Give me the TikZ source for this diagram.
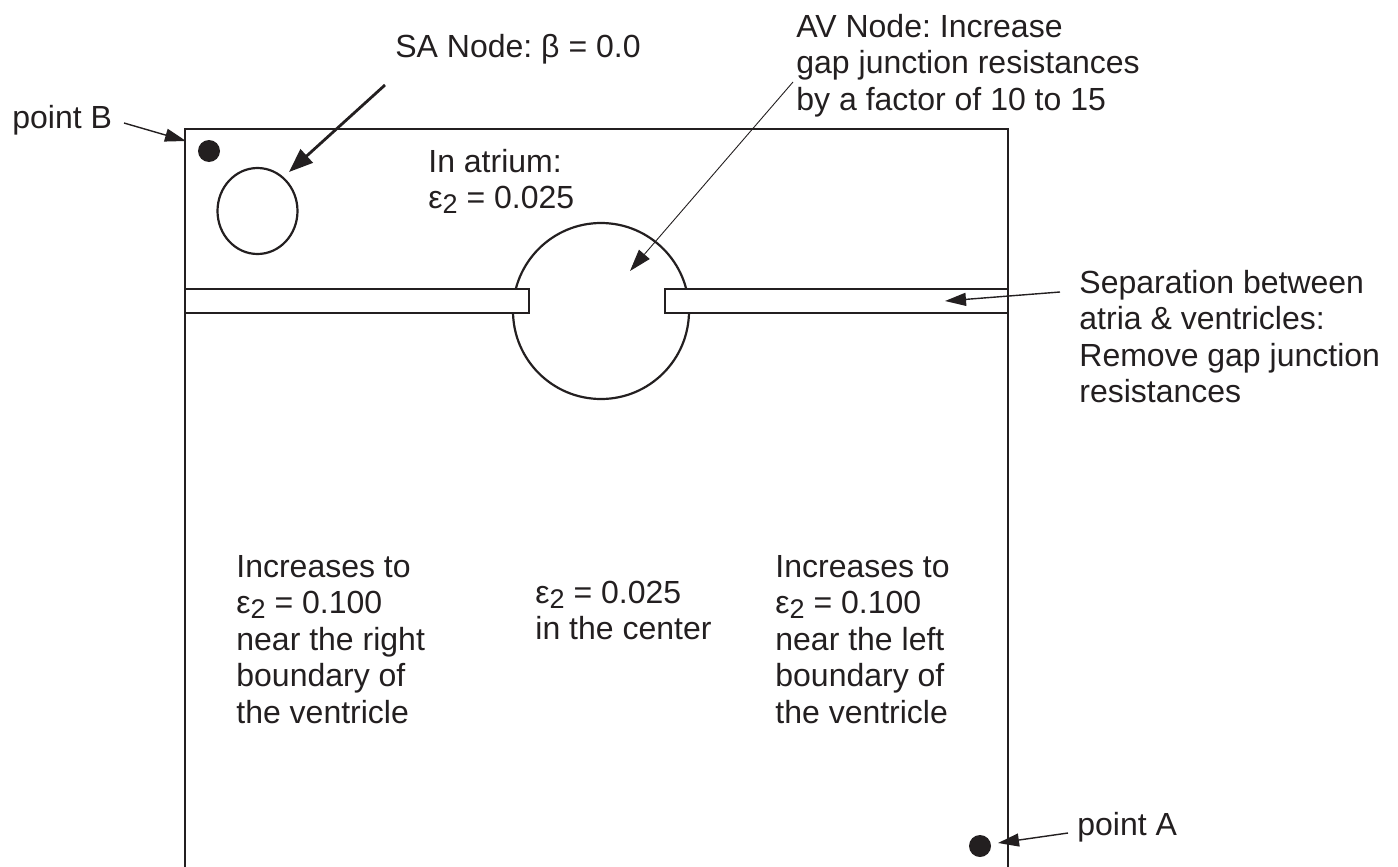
\documentclass[tikz,border=0pt]{standalone}
\usepackage{fontspec}
\setmainfont{Liberation Sans}
\usetikzlibrary{arrows.meta,shapes.geometric}
\frenchspacing
\definecolor{ink}{RGB}{35,31,32}
\newcommand{\epstwo}{ε\raisebox{-2.5pt}{\fontsize{13.5pt}{13.5pt}\selectfont 2}}
\newcommand{\txtblock}[1]{\parbox[t]{300pt}{\raggedright #1}}
\begin{document}
\begin{tikzpicture}[x=0.5pt,y=-0.5pt,
  lbl/.style={anchor=base west, inner sep=0pt, text=ink, font=\fontsize{16pt}{18.25pt}\selectfont},
  outline/.style={draw=ink, line width=1.3pt},
  shapeline/.style={draw=ink, line width=1.1pt},
  dot/.style={circle, fill=ink, minimum size=11pt, inner sep=0pt},
  bar/.style={draw=ink, fill=white, line width=1.3pt},
  thickarrow/.style={draw=ink, line width=1.4pt, -{Triangle[length=12pt,width=9pt]}},
  thinarrow/.style={draw=ink, line width=0.7pt, -{Triangle[length=10.5pt,width=6.5pt]}},
  hairarrow/.style={draw=ink, line width=0.45pt, -{Triangle[length=11pt,width=7pt]}}]
\useasboundingbox (0,0) rectangle (1398,867);

% heart outline (open at the bottom)
\draw[outline] (185,867) -- (185,129) -- (1008,129) -- (1008,867);

% SA node and AV node
\node (sa) [ellipse, shapeline, minimum width=40pt, minimum height=43pt, inner sep=0pt] at (257.5,211) {};
\node (av) [circle, shapeline, minimum size=88pt, inner sep=0pt] at (601,311) {};

% separation bars
\path[bar] (185,289) rectangle (529,313);
\path[bar] (665,289) rectangle (1008,313);

% points
\node (ptB) [dot] at (209,151) {};
\node (ptA) [dot] at (980,846) {};

% labels
\node (saLabel) [lbl] at (395,57) {SA Node: β = 0.0};
\node (bLabel) [lbl] at (12,128) {point B};
\node (aLabel) [lbl] at (1077,835) {point A};
\node (atrium) [lbl] at (428,172) {\txtblock{In atrium:\\ \epstwo{} = 0.025}};
\node (avLabel) [lbl] at (796,37) {\txtblock{AV Node: Increase\\ gap junction resistances\\ by a factor of 10 to 15}};
\node (sepLabel) [lbl] at (1079,293) {\txtblock{Separation between\\ atria \& ventricles:\\ Remove gap junction\\ resistances}};
\node (ventL) [lbl] at (236,577) {\txtblock{Increases to\\ \epstwo{} = 0.100\\ near the right\\ boundary of\\ the ventricle}};
\node (ventC) [lbl] at (535,603) {\txtblock{\epstwo{} = 0.025\\ in the center}};
\node (ventR) [lbl] at (775,577) {\txtblock{Increases to\\ \epstwo{} = 0.100\\ near the left\\ boundary of\\ the ventricle}};

% arrow anchor coordinates
\coordinate (saFrom) at (385,85);
\coordinate (saTo) at (289,172);
\coordinate (bFrom) at (124,123);
\coordinate (bTo) at (186,141);
\coordinate (avFrom) at (793,82);
\coordinate (avTo) at (630,271);
\coordinate (sepFrom) at (1060,292);
\coordinate (sepTo) at (945,301);
\coordinate (aFrom) at (1068,833);
\coordinate (aTo) at (998,843);

% connectors
\draw[thickarrow] (saFrom) -- (saTo);
\draw[thinarrow] (bFrom) -- (bTo);
\draw[hairarrow] (avFrom) -- (avTo);
\draw[thinarrow] (sepFrom) -- (sepTo);
\draw[thinarrow] (aFrom) -- (aTo);
\end{tikzpicture}
\end{document}
